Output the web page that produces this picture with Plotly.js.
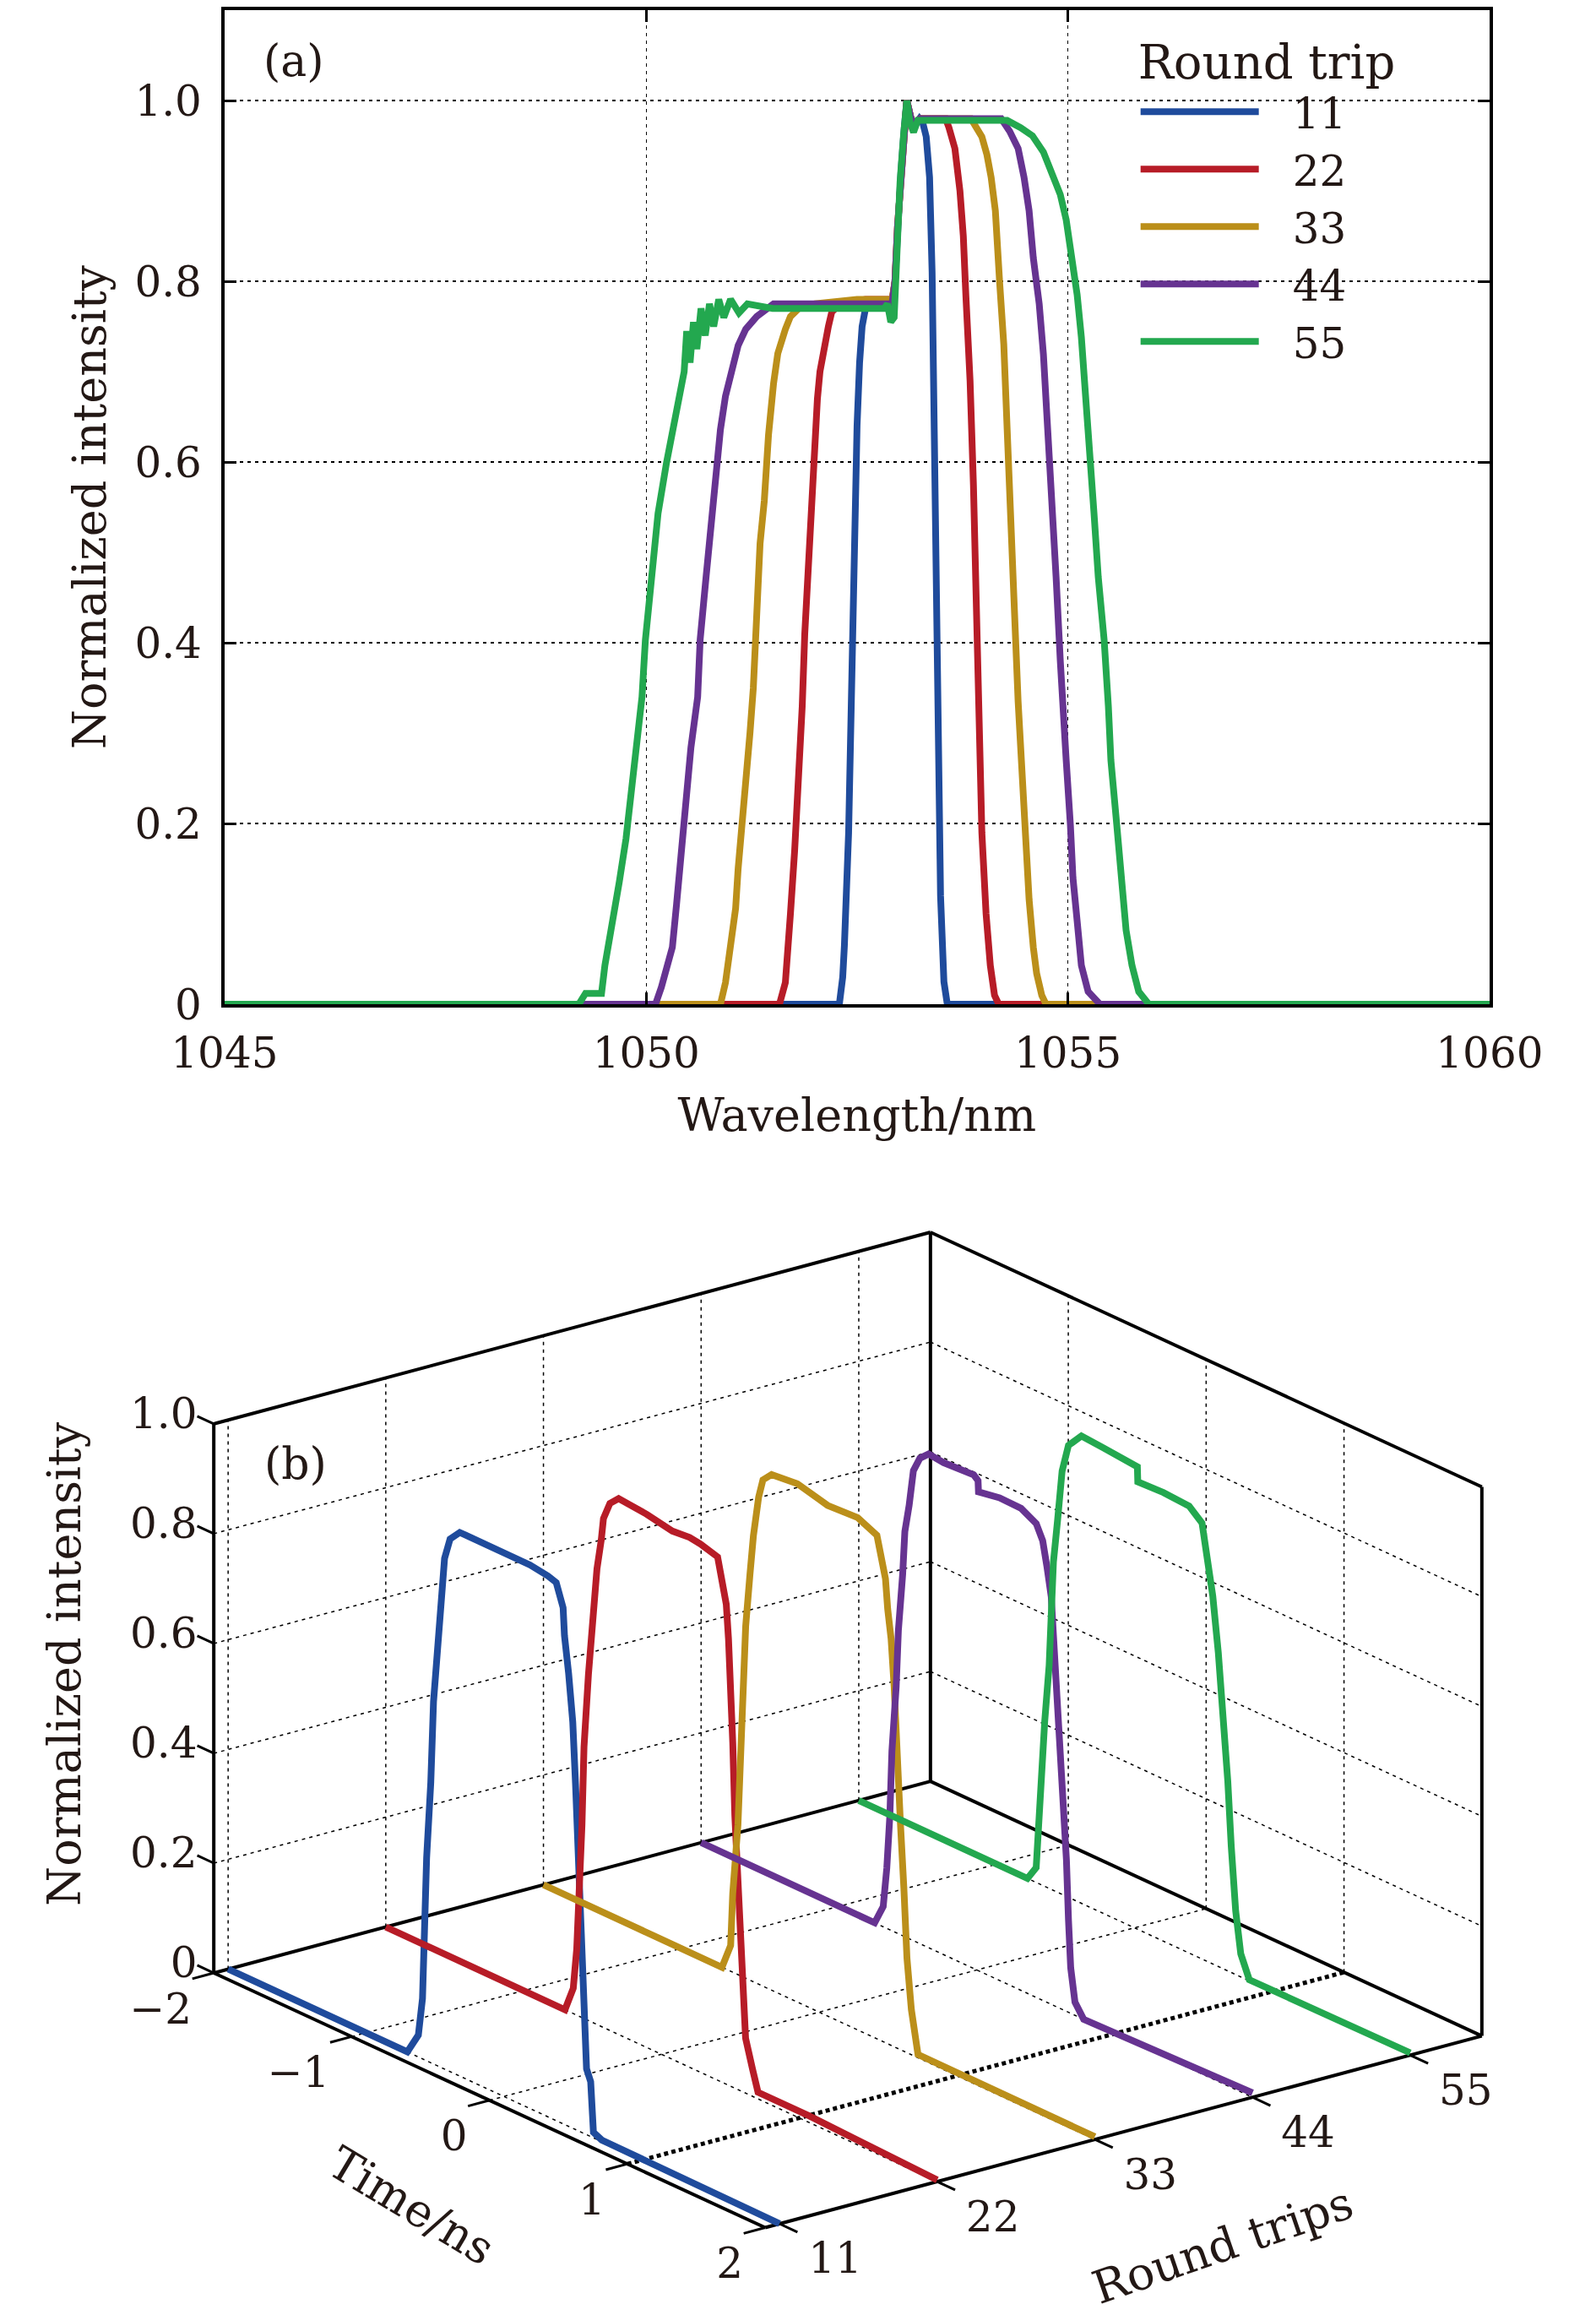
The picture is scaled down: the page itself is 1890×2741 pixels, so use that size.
<!DOCTYPE html>
<html>
<head>
<meta charset="utf-8">
<script src="https://cdn.plot.ly/plotly-3.0.1.min.js"></script>
<style>
  html, body { margin: 0; padding: 0; background: #fff; }
  #chart { width: 1890px; height: 2741px; }
</style>
</head>
<body>
<div id="chart"></div>
<script>
// (a) spectra, one curve per round trip
const roundTrips = [11, 22, 33, 44, 55];
const traceColors = ['#1f4b9c', '#b71c27', '#bb8f1a', '#663391', '#23a84f'];

const wl11 = [1045, 1052.29, 1052.33, 1052.35, 1052.40, 1052.43, 1052.46, 1052.50, 1052.53, 1052.56, 1052.60, 1052.75, 1052.86, 1052.90, 1052.95, 1052.98, 1053.02, 1053.06, 1053.09, 1053.14, 1053.18, 1053.24, 1053.28, 1053.32, 1053.36, 1053.39, 1053.42, 1053.45, 1053.47, 1053.49, 1053.53, 1053.57, 1060];
const in11 = [0, 0, 0.03, 0.065, 0.19, 0.35, 0.52, 0.64, 0.71, 0.75, 0.77, 0.775, 0.775, 0.765, 0.80, 0.86, 0.92, 0.97, 1.0, 0.98, 0.972, 0.98, 0.975, 0.96, 0.915, 0.81, 0.61, 0.45, 0.34, 0.12, 0.025, 0, 0];

const wl22 = [1045, 1051.58, 1051.65, 1051.68, 1051.71, 1051.76, 1051.81, 1051.85, 1051.88, 1051.93, 1051.96, 1051.99, 1052.03, 1052.06, 1052.11, 1052.16, 1052.20, 1052.30, 1052.60, 1052.86, 1052.90, 1052.95, 1052.98, 1053.02, 1053.06, 1053.09, 1053.14, 1053.18, 1053.25, 1053.55, 1053.59, 1053.66, 1053.72, 1053.76, 1053.79, 1053.84, 1053.88, 1053.91, 1053.94, 1053.98, 1054.03, 1054.08, 1054.13, 1054.18, 1060];
const in22 = [0, 0, 0.024, 0.053, 0.10, 0.17, 0.25, 0.33, 0.41, 0.50, 0.57, 0.62, 0.67, 0.70, 0.73, 0.75, 0.766, 0.775, 0.78, 0.78, 0.77, 0.80, 0.86, 0.92, 0.97, 1.0, 0.98, 0.975, 0.98, 0.98, 0.97, 0.947, 0.90, 0.85, 0.785, 0.69, 0.575, 0.445, 0.33, 0.19, 0.10, 0.043, 0.01, 0, 0];

const wl33 = [1045, 1050.88, 1050.94, 1051.01, 1051.06, 1051.09, 1051.14, 1051.18, 1051.23, 1051.27, 1051.30, 1051.35, 1051.40, 1051.45, 1051.51, 1051.56, 1051.65, 1051.71, 1051.81, 1052.00, 1052.50, 1052.86, 1052.90, 1052.95, 1052.98, 1053.02, 1053.06, 1053.09, 1053.14, 1053.18, 1053.25, 1053.85, 1053.98, 1054.04, 1054.09, 1054.14, 1054.19, 1054.24, 1054.28, 1054.31, 1054.36, 1054.41, 1054.46, 1054.51, 1054.54, 1054.59, 1054.63, 1054.69, 1054.74, 1060];
const in33 = [0, 0, 0.024, 0.072, 0.106, 0.15, 0.20, 0.246, 0.30, 0.35, 0.41, 0.51, 0.557, 0.63, 0.687, 0.72, 0.747, 0.761, 0.77, 0.775, 0.78, 0.78, 0.77, 0.80, 0.86, 0.92, 0.97, 1.0, 0.98, 0.975, 0.98, 0.98, 0.96, 0.94, 0.915, 0.878, 0.80, 0.73, 0.636, 0.543, 0.45, 0.335, 0.246, 0.173, 0.116, 0.063, 0.034, 0.01, 0, 0];

const wl44 = [1045, 1050.11, 1050.18, 1050.24, 1050.31, 1050.36, 1050.41, 1050.48, 1050.53, 1050.61, 1050.64, 1050.71, 1050.78, 1050.83, 1050.88, 1050.94, 1051.01, 1051.09, 1051.18, 1051.31, 1051.51, 1052.00, 1052.50, 1052.86, 1052.90, 1052.95, 1052.98, 1053.02, 1053.06, 1053.09, 1053.14, 1053.18, 1053.25, 1054.21, 1054.31, 1054.41, 1054.48, 1054.54, 1054.59, 1054.66, 1054.71, 1054.76, 1054.81, 1054.86, 1054.91, 1054.95, 1054.98, 1055.03, 1055.06, 1055.11, 1055.16, 1055.24, 1055.38, 1060];
const in44 = [0, 0, 0.019, 0.043, 0.063, 0.111, 0.159, 0.227, 0.284, 0.34, 0.404, 0.473, 0.543, 0.59, 0.636, 0.673, 0.70, 0.729, 0.747, 0.761, 0.775, 0.775, 0.775, 0.775, 0.765, 0.80, 0.86, 0.92, 0.97, 1.0, 0.98, 0.975, 0.98, 0.98, 0.966, 0.947, 0.915, 0.878, 0.826, 0.775, 0.719, 0.645, 0.566, 0.473, 0.38, 0.33, 0.27, 0.198, 0.14, 0.092, 0.043, 0.014, 0, 0];

const wl55 = [1045, 1049.20, 1049.28, 1049.47, 1049.51, 1049.61, 1049.68, 1049.76, 1049.83, 1049.89, 1049.95, 1049.99, 1050.06, 1050.14, 1050.24, 1050.33, 1050.41, 1050.45, 1050.48, 1050.52, 1050.56, 1050.60, 1050.65, 1050.70, 1050.75, 1050.80, 1050.86, 1050.92, 1051.00, 1051.10, 1051.20, 1051.50, 1052.00, 1052.50, 1052.82, 1052.86, 1052.90, 1052.94, 1052.97, 1053.01, 1053.05, 1053.09, 1053.13, 1053.17, 1053.22, 1054.28, 1054.44, 1054.58, 1054.71, 1054.81, 1054.91, 1054.98, 1055.04, 1055.11, 1055.16, 1055.21, 1055.26, 1055.31, 1055.36, 1055.43, 1055.48, 1055.51, 1055.58, 1055.63, 1055.69, 1055.76, 1055.84, 1055.96, 1060];
const in55 = [0, 0, 0.012, 0.012, 0.043, 0.092, 0.135, 0.183, 0.236, 0.294, 0.34, 0.403, 0.473, 0.543, 0.599, 0.645, 0.682, 0.70, 0.745, 0.71, 0.755, 0.725, 0.77, 0.74, 0.775, 0.75, 0.78, 0.76, 0.78, 0.765, 0.775, 0.77, 0.77, 0.77, 0.77, 0.775, 0.755, 0.76, 0.84, 0.91, 0.96, 1.0, 0.975, 0.965, 0.978, 0.978, 0.97, 0.961, 0.943, 0.92, 0.896, 0.868, 0.831, 0.785, 0.738, 0.68, 0.613, 0.543, 0.473, 0.403, 0.33, 0.27, 0.198, 0.135, 0.082, 0.043, 0.014, 0, 0];

const spectraX = [wl11, wl22, wl33, wl44, wl55];
const spectraY = [in11, in22, in33, in44, in55];

// (b) temporal pulses, time in ns, normalized intensity
const t11 = [-2, -0.70, -0.62, -0.59, -0.56, -0.53, -0.51, -0.48, -0.45, -0.43, -0.39, -0.32, -0.28, -0.06, 0.19, 0.32, 0.38, 0.43, 0.44, 0.47, 0.50, 0.52, 0.54, 0.56, 0.58, 0.60, 0.63, 0.65, 0.71, 2];
const p11 = [0, 0, 0.04, 0.11, 0.37, 0.51, 0.66, 0.76, 0.85, 0.93, 0.97, 0.99, 0.99, 0.99, 0.99, 0.985, 0.98, 0.94, 0.89, 0.825, 0.74, 0.63, 0.50, 0.34, 0.19, 0.12, 0.10, 0.01, 0.003, 0];
const t22 = [-2, -0.70, -0.64, -0.615, -0.577, -0.562, -0.53, -0.50, -0.468, -0.437, -0.421, -0.374, -0.311, -0.108, -0.015, 0.079, 0.204, 0.282, 0.407, 0.422, 0.47, 0.486, 0.501, 0.517, 0.532, 0.563, 0.579, 0.61, 0.66, 0.70, 1.07, 2];
const p22 = [0, 0, 0.046, 0.12, 0.35, 0.495, 0.63, 0.74, 0.83, 0.886, 0.927, 0.96, 0.976, 0.971, 0.966, 0.962, 0.965, 0.962, 0.953, 0.931, 0.874, 0.813, 0.736, 0.627, 0.496, 0.351, 0.227, 0.10, 0.05, 0.012, 0.012, 0.003];
const t33 = [-2, -0.705, -0.642, -0.627, -0.589, -0.570, -0.558, -0.533, -0.502, -0.477, -0.439, -0.408, -0.345, -0.158, 0.061, 0.279, 0.419, 0.450, 0.481, 0.497, 0.522, 0.544, 0.559, 0.590, 0.615, 0.637, 0.669, 0.700, 0.717, 2];
const p33 = [0, 0, 0.047, 0.143, 0.273, 0.393, 0.512, 0.641, 0.739, 0.812, 0.887, 0.922, 0.939, 0.944, 0.930, 0.933, 0.917, 0.880, 0.845, 0.792, 0.740, 0.656, 0.547, 0.410, 0.295, 0.172, 0.082, 0.015, 0.006, 0.005];
const t44 = [-2, -0.741, -0.679, -0.653, -0.631, -0.616, -0.585, -0.569, -0.538, -0.522, -0.491, -0.460, -0.413, -0.350, -0.241, -0.022, 0.009, 0.012, 0.165, 0.321, 0.431, 0.478, 0.509, 0.540, 0.556, 0.571, 0.587, 0.619, 0.650, 0.665, 0.681, 0.712, 0.775, 2];
const p44 = [0, 0, 0.037, 0.110, 0.207, 0.327, 0.448, 0.552, 0.658, 0.738, 0.789, 0.856, 0.884, 0.899, 0.896, 0.899, 0.892, 0.872, 0.879, 0.878, 0.863, 0.837, 0.793, 0.742, 0.673, 0.613, 0.512, 0.398, 0.276, 0.168, 0.083, 0.024, 0.0, 0.008];
const t55 = [-2, -0.776, -0.713, -0.698, -0.672, -0.651, -0.619, -0.604, -0.588, -0.557, -0.525, -0.479, -0.385, -0.229, -0.010, 0.021, 0.024, 0.209, 0.396, 0.490, 0.527, 0.568, 0.608, 0.646, 0.677, 0.702, 0.734, 0.771, 0.833, 2];
const p55 = [0, 0, 0.027, 0.107, 0.196, 0.301, 0.406, 0.510, 0.598, 0.680, 0.771, 0.823, 0.851, 0.848, 0.843, 0.842, 0.815, 0.817, 0.814, 0.794, 0.735, 0.670, 0.572, 0.459, 0.345, 0.230, 0.116, 0.042, 0.002, 0.004];

const pulseT = [t11, t22, t33, t44, t55];
const pulseI = [p11, p22, p33, p44, p55];

// dotted floor marker at t = 1 ns
const markerTime = 1;

const intensityTicks = [0, 0.2, 0.4, 0.6, 0.8, 1.0];
const intensityLabels = ['0', '0.2', '0.4', '0.6', '0.8', '1.0'];
const wavelengthTicks = [1045, 1050, 1055, 1060];
const timeTicks = [-2, -1, 0, 1, 2];
const timeLabels = ['\u22122', '\u22121', '0', '1', '2'];

const FONT = 'DejaVu Serif';
const INK = '#231815';
const LINE_W = 8;

// ---- 3D view for panel (b), MATLAB-like orthographic box ----
// (no WebGL in the renderer, so the box is projected onto a hidden 2D axis pair in page pixels)
const tRange = [-2, 2];
const rRange = [10, 60];
const zRange = [0, 1];
const view = { az: -37.27, el: 20.57, aspect: [1, 0.989, 0.644], scale: 1078.3, cx: 1004, cy: 2048.25 };

function proj(t, r, z) {
    const u = ((t - tRange[0]) / (tRange[1] - tRange[0]) - 0.5) * view.aspect[0];
    const v = ((r - rRange[0]) / (rRange[1] - rRange[0]) - 0.5) * view.aspect[1];
    const w = ((z - zRange[0]) / (zRange[1] - zRange[0]) - 0.5) * view.aspect[2];
    const ph = view.az * Math.PI / 180;
    const th = view.el * Math.PI / 180;
    const right = -u * Math.sin(ph) + v * Math.cos(ph);
    const up = -u * Math.sin(th) * Math.cos(ph) - v * Math.sin(th) * Math.sin(ph) + w * Math.cos(th);
    return [view.cx + view.scale * right, view.cy - view.scale * up];
}

// collect 3D segments into one broken polyline
function segTrace(segs, line) {
    const x = [], y = [];
    segs.forEach(s => {
        const a = proj(...s[0]), b = proj(...s[1]);
        x.push(a[0], b[0], null);
        y.push(a[1], b[1], null);
    });
    return { type: 'scatter', mode: 'lines', x, y, line, xaxis: 'x2', yaxis: 'y2',
             showlegend: false, hoverinfo: 'skip' };
}

const [t0, t1] = tRange, [r0, r1] = rRange, [z0, z1] = zRange;

// grid on the three back planes
const gridSegs = [];
roundTrips.forEach(r => {
    gridSegs.push([[t0, r, z0], [t0, r, z1]]);   // back-left wall
    gridSegs.push([[t0, r, z0], [t1, r, z0]]);   // floor
});
timeTicks.slice(1, -1).forEach(t => {
    gridSegs.push([[t, r1, z0], [t, r1, z1]]);   // back-right wall
    if (t !== markerTime) gridSegs.push([[t, r0, z0], [t, r1, z0]]);   // floor
});
intensityTicks.slice(1, -1).forEach(z => {
    gridSegs.push([[t0, r0, z], [t0, r1, z]]);
    gridSegs.push([[t0, r1, z], [t1, r1, z]]);
});

// back box edges plus the two front floor edges
const boxSegs = [
    [[t0, r0, z0], [t1, r0, z0]], [[t1, r0, z0], [t1, r1, z0]],
    [[t1, r1, z0], [t0, r1, z0]], [[t0, r1, z0], [t0, r0, z0]],
    [[t0, r0, z0], [t0, r0, z1]], [[t0, r1, z0], [t0, r1, z1]], [[t1, r1, z0], [t1, r1, z1]],
    [[t0, r0, z1], [t0, r1, z1]], [[t0, r1, z1], [t1, r1, z1]]
];

const tickSegs = [];
intensityTicks.forEach(z => tickSegs.push([[t0, r0, z], [t0 - 0.12, r0, z]]));
timeTicks.forEach(t => tickSegs.push([[t, r0, z0], [t, r0 - 1.5, z0]]));
roundTrips.forEach(r => tickSegs.push([[t1, r, z0], [t1 + 0.13, r, z0]]));

const data = [];

roundTrips.forEach((rt, i) => {
    data.push({
        type: 'scatter',
        x: spectraX[i],
        y: spectraY[i],
        mode: 'lines',
        name: '\u2002\u2009' + rt,
        line: { color: traceColors[i], width: LINE_W },
        xaxis: 'x',
        yaxis: 'y'
    });
});

data.push(segTrace(gridSegs, { color: '#000', width: 1.5, dash: '4px,5px' }));
data.push(segTrace(boxSegs, { color: '#000', width: 4 }));
data.push(segTrace([[[markerTime, r0, z0], [markerTime, r1, z0]]], { color: '#000', width: 5, dash: '5px,4px' }));

roundTrips.forEach((rt, i) => {
    const pts = pulseT[i].map((t, k) => proj(t, rt, pulseI[i][k]));
    data.push({
        type: 'scatter', mode: 'lines',
        x: pts.map(p => p[0]), y: pts.map(p => p[1]),
        line: { color: traceColors[i], width: LINE_W },
        xaxis: 'x2', yaxis: 'y2', showlegend: false
    });
});

data.push(segTrace(tickSegs, { color: '#000', width: 3 }));

function labelTrace(pts, text, pos, dx, dy) {
    return {
        type: 'scatter', mode: 'text',
        x: pts.map(p => p[0] + dx), y: pts.map(p => p[1] + dy),
        text, textposition: pos,
        textfont: { family: FONT, size: 50, color: INK },
        xaxis: 'x2', yaxis: 'y2', showlegend: false, hoverinfo: 'skip'
    };
}
data.push(labelTrace(intensityTicks.map(z => proj(t0 - 0.12, r0, z)), intensityLabels, 'middle left', 0, 2));
data.push(labelTrace(timeTicks.map(t => proj(t, r0, z0)), timeLabels, 'middle left', -26, 47));
data.push(labelTrace(roundTrips.map(r => proj(t1, r, z0)), roundTrips.map(String), 'middle right', 34, 46));

const pageH = 2741;
const lowerTop = 0.489;

const layout = {
    width: 1890,
    height: pageH,
    margin: { l: 0, r: 0, t: 0, b: 0 },
    paper_bgcolor: '#ffffff',
    plot_bgcolor: 'rgba(0,0,0,0)',
    font: { family: FONT, color: INK },
    showlegend: true,
    legend: {
        x: 0.712, y: 0.9925,
        xanchor: 'left', yanchor: 'top',
        bgcolor: 'rgba(0,0,0,0)',
        itemwidth: 140,
        font: { family: FONT, size: 50, color: INK },
        title: { text: 'Round trip', font: { family: FONT, size: 56, color: INK } }
    },
    xaxis: {
        domain: [0.1407, 0.9333],
        anchor: 'y',
        range: [1045, 1060],
        tickvals: wavelengthTicks,
        ticks: 'inside', ticklen: 14, tickwidth: 3, tickcolor: '#000',
        showline: true, linewidth: 4, linecolor: '#000', mirror: 'ticks',
        showgrid: true, gridcolor: '#000', gridwidth: 1.5, griddash: '4px,5px',
        zeroline: false,
        ticklabelstandoff: 11,
        tickfont: { family: FONT, size: 50, color: INK },
        title: { text: 'Wavelength/nm', font: { family: FONT, size: 54, color: INK }, standoff: 27 }
    },
    yaxis: {
        domain: [0.5662, 0.9956],
        anchor: 'x',
        range: [0, 1.1],
        tickvals: intensityTicks,
        ticktext: intensityLabels,
        ticks: 'inside', ticklen: 14, tickwidth: 3, tickcolor: '#000',
        showline: true, linewidth: 4, linecolor: '#000', mirror: 'ticks',
        showgrid: true, gridcolor: '#000', gridwidth: 1.5, griddash: '4px,5px',
        zeroline: false,
        ticklabelstandoff: 13,
        tickfont: { family: FONT, size: 50, color: INK },
        title: { text: 'Normalized intensity', font: { family: FONT, size: 54, color: INK }, standoff: 17 }
    },
    // hidden page-pixel axes for the projected 3D panel
    xaxis2: { domain: [0, 1], anchor: 'y2', range: [0, 1890], visible: false, fixedrange: true },
    yaxis2: { domain: [0, lowerTop], anchor: 'x2', range: [pageH, pageH * (1 - lowerTop)], visible: false, fixedrange: true },
    annotations: [
        { text: '(a)', xref: 'paper', yref: 'paper', x: 348 / 1890, y: 1 - 72 / pageH,
          xanchor: 'center', yanchor: 'middle', showarrow: false,
          font: { family: FONT, size: 52, color: INK } },
        { text: '(b)', xref: 'paper', yref: 'paper', x: 350 / 1890, y: 1 - 1733 / pageH,
          xanchor: 'center', yanchor: 'middle', showarrow: false,
          font: { family: FONT, size: 52, color: INK } },
        { text: 'Normalized intensity', xref: 'paper', yref: 'paper', x: 76 / 1890, y: 1 - 1970 / pageH,
          xanchor: 'center', yanchor: 'middle', textangle: -90, showarrow: false,
          font: { family: FONT, size: 54, color: INK } },
        { text: 'Time/ns', xref: 'paper', yref: 'paper', x: 487 / 1890, y: 1 - 2611 / pageH,
          xanchor: 'center', yanchor: 'middle', textangle: 31, showarrow: false,
          font: { family: FONT, size: 54, color: INK } },
        { text: 'Round trips', xref: 'paper', yref: 'paper', x: 1448 / 1890, y: 1 - 2658 / pageH,
          xanchor: 'center', yanchor: 'middle', textangle: -19, showarrow: false,
          font: { family: FONT, size: 54, color: INK } }
    ]
};

Plotly.newPlot('chart', data, layout, { displayModeBar: false, staticPlot: true });
</script>
</body>
</html>
